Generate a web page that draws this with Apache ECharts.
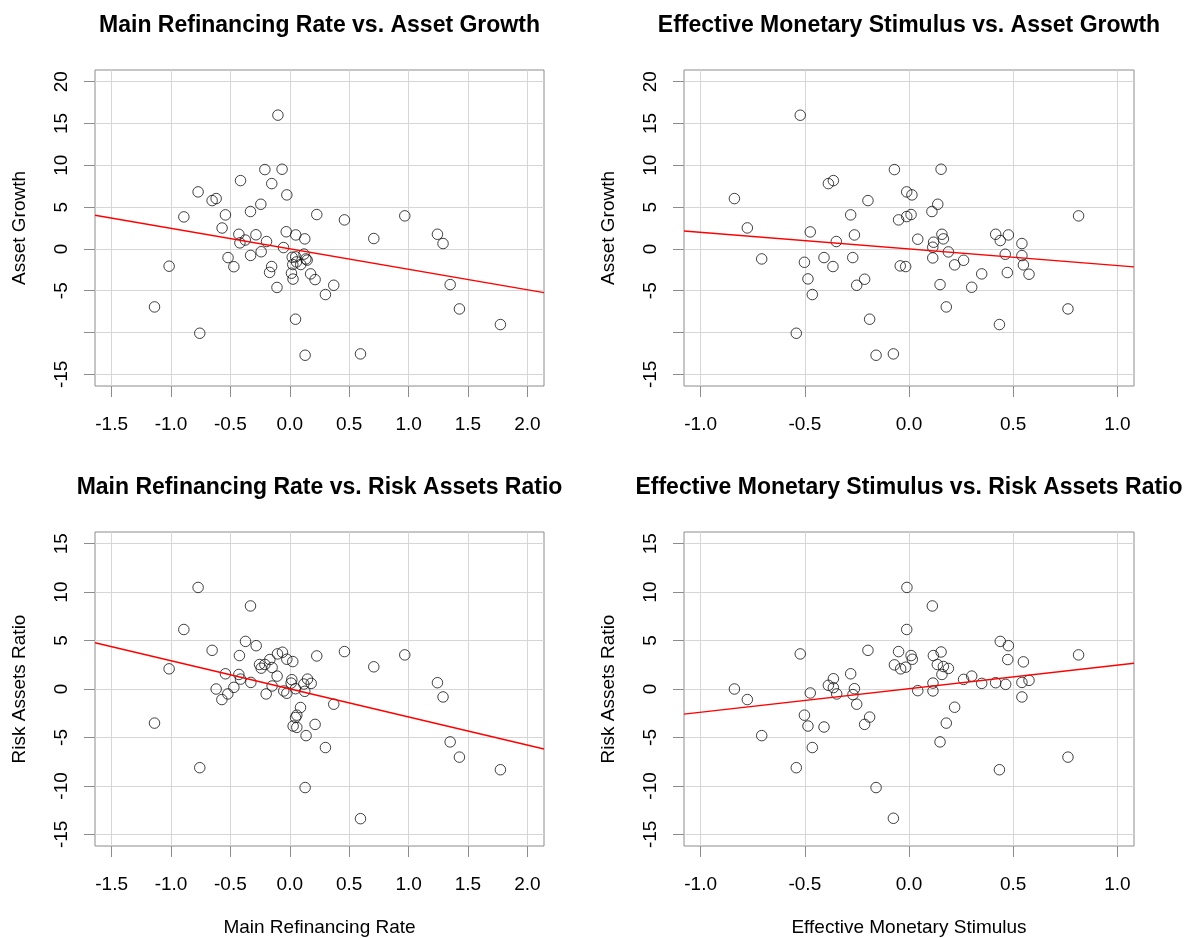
<!DOCTYPE html>
<html>
<head>
<meta charset="utf-8">
<script src="https://cdn.jsdelivr.net/npm/echarts@6/dist/echarts.min.js"></script>
<style>
html,body{margin:0;padding:0;background:#fff;}
#chart{width:1185px;height:938px;}
</style>
</head>
<body>
<div id="chart"></div>
<script>
// ---- Data ----
// Top-left: Main Refinancing Rate vs. Asset Growth
const mrrAsset_x = [-0.10,-0.21,-0.065,-0.415,-0.152,-0.772,-0.025,-0.654,-0.62,-0.244,-0.331,-0.892,-0.542,0.227,0.46,0.968,-0.57,-0.03,-0.429,-0.285,0.05,0.126,-0.375,-0.42,-0.196,0.707,1.243,1.29,-0.053,-0.241,-0.33,-0.52,0.02,0.05,0.12,0.146,0.135,0.056,0.025,0.092,-1.016,-0.471,-0.153,-0.17,0.014,0.027,0.175,0.213,0.37,-0.108,0.30,1.35,-1.139,1.428,1.773,0.048,-0.758,0.129,0.595];
const mrrAsset_y = [16.0,9.49,9.53,8.17,7.81,6.82,6.46,5.78,6.02,5.34,4.47,3.83,4.07,4.11,3.47,3.95,2.5,2.05,1.75,1.69,1.67,1.2,1.06,0.72,0.88,1.24,1.75,0.64,0.16,-0.34,-0.78,-1.04,-1.0,-0.95,-0.62,-1.34,-1.2,-1.56,-1.87,-1.87,-2.07,-2.13,-2.11,-2.81,-2.91,-3.61,-2.99,-3.67,-4.35,-4.61,-5.46,-4.27,-6.94,-7.18,-9.05,-8.41,-10.09,-12.72,-12.56];

// Top-right: Effective Monetary Stimulus vs. Asset Growth
const emsAsset_x = [-0.522,-0.070,0.154,-0.387,-0.363,-0.838,-0.011,0.014,-0.197,0.138,0.110,-0.28,-0.011,0.010,-0.050,0.814,-0.776,-0.474,-0.262,0.158,0.165,0.416,0.477,0.438,-0.349,0.042,0.118,0.114,0.542,0.189,0.462,0.542,-0.707,-0.502,-0.408,-0.270,-0.365,-0.042,-0.016,0.114,0.262,0.219,0.549,0.349,0.472,0.576,-0.485,-0.251,-0.213,0.149,0.301,-0.464,0.179,0.763,0.434,-0.189,-0.541,-0.158,-0.075];
const emsAsset_y = [15.99,9.49,9.53,7.81,8.17,6.02,6.82,6.46,5.78,5.34,4.47,4.07,3.87,4.11,3.47,3.95,2.51,2.03,1.67,1.75,1.2,1.75,1.67,1.0,0.88,1.16,0.80,0.2,0.64,-0.36,-0.64,-0.8,-1.2,-1.6,-1.04,-1.04,-2.11,-2.03,-2.11,-1.08,-1.36,-1.91,-1.91,-2.99,-2.83,-3.03,-3.59,-4.35,-3.63,-4.27,-4.59,-5.46,-6.94,-7.18,-9.05,-8.41,-10.09,-12.72,-12.56];

// Bottom-left: Main Refinancing Rate vs. Risk Assets Ratio
const mrrRisk_x = [-0.772,-0.331,-0.892,-0.373,-0.283,-0.654,-0.424,-0.104,-0.062,0.227,0.46,0.968,-0.168,-0.025,0.025,-0.255,-0.21,-0.241,-0.149,0.707,-1.016,-0.542,-0.429,-0.415,-0.107,0.017,0.011,0.149,0.18,0.118,-0.328,-0.149,-0.471,-0.62,0.048,0.126,-0.051,-0.025,-0.199,-0.522,-0.572,1.243,1.29,0.37,0.09,0.059,0.048,0.028,0.059,0.213,0.137,-1.139,0.30,1.35,1.428,1.773,-0.758,0.129,0.595];
const mrrRisk_y = [10.48,8.57,6.14,4.91,4.47,3.99,3.45,3.62,3.79,3.41,3.86,3.52,3.04,3.07,2.83,2.53,2.53,2.15,2.22,2.29,2.08,1.57,1.5,1.02,1.33,0.96,0.61,1.02,0.58,0.51,0.68,0.31,0.17,0.0,0.03,-0.24,-0.2,-0.44,-0.51,-0.51,-1.09,0.65,-0.82,-1.57,-1.91,-2.7,-2.94,-3.82,-3.96,-3.65,-4.81,-3.52,-6.04,-5.46,-7.03,-8.33,-8.12,-10.17,-13.38];

// Bottom-right: Effective Monetary Stimulus vs. Risk Assets Ratio
const emsRisk_x = [-0.010,0.112,-0.011,0.438,0.477,-0.522,-0.197,-0.05,0.154,0.117,0.010,0.016,0.814,0.474,0.549,-0.070,-0.04,-0.016,0.136,0.165,0.189,0.158,-0.28,-0.363,-0.387,-0.363,-0.347,-0.262,-0.269,-0.251,-0.838,-0.776,-0.474,-0.502,-0.485,-0.408,-0.707,-0.464,-0.541,-0.213,-0.189,-0.158,-0.075,0.042,0.115,0.115,0.262,0.301,0.349,0.416,0.464,0.542,0.576,0.542,0.219,0.179,0.149,0.763,0.434];
const emsRisk_y = [10.48,8.57,6.14,4.91,4.47,3.62,3.99,3.86,3.82,3.45,3.45,3.07,3.52,3.04,2.80,2.49,2.08,2.25,2.53,2.32,2.12,1.5,1.57,1.06,0.38,0.14,-0.51,0.03,-0.58,-1.57,0.0,-1.09,-0.41,-2.70,-3.82,-3.92,-4.81,-6.04,-8.12,-3.65,-2.90,-10.17,-13.34,-0.17,0.61,-0.2,0.99,1.33,0.58,0.65,0.48,0.68,0.89,-0.82,-1.88,-3.52,-5.46,-7.03,-8.33];

// Fitted regression lines [intercept, slope]
const fitMrrAsset = [0.01, -2.45];
const fitEmsAsset = [0.0, -1.99];
const fitMrrRisk  = [0.02, -2.90];
const fitEmsRisk  = [0.03, 2.43];

// Tick values and labels
const xTicksMrr = [-1.5,-1.0,-0.5,0.0,0.5,1.0,1.5,2.0];
const xTicksEms = [-1.0,-0.5,0.0,0.5,1.0];
const yTicksAsset = [-15,-10,-5,0,5,10,15,20];
const yLabelsAsset = [-15,-5,0,5,10,15,20];
const yTicksRisk = [-15,-10,-5,0,5,10,15];

const titles = [
  'Main Refinancing Rate vs. Asset Growth',
  'Effective Monetary Stimulus vs. Asset Growth',
  'Main Refinancing Rate vs. Risk Assets Ratio',
  'Effective Monetary Stimulus vs. Risk Assets Ratio'
];

// ---- Layout / style ----
const FONT = '"Liberation Sans", Arial, Helvetica, sans-serif';
const xRangeMrr = [-1.64, 2.14];
const xRangeEms = [-1.08, 1.08];
const yRangeAsset = [-16.4, 21.4];
const yRangeRisk = [-16.2, 16.2];

const grids = [
  {left: 95,  top: 70,  width: 449, height: 316},
  {left: 684, top: 70,  width: 450, height: 316},
  {left: 95,  top: 532, width: 449, height: 316},
  {left: 684, top: 532, width: 450, height: 316}
];

const panels = [
  {x: mrrAsset_x, y: mrrAsset_y, fit: fitMrrAsset, xr: xRangeMrr, yr: yRangeAsset, xt: xTicksMrr, yt: yTicksAsset, yl: yLabelsAsset, xName: '', yName: 'Asset Growth'},
  {x: emsAsset_x, y: emsAsset_y, fit: fitEmsAsset, xr: xRangeEms, yr: yRangeAsset, xt: xTicksEms, yt: yTicksAsset, yl: yLabelsAsset, xName: '', yName: 'Asset Growth'},
  {x: mrrRisk_x, y: mrrRisk_y, fit: fitMrrRisk, xr: xRangeMrr, yr: yRangeRisk, xt: xTicksMrr, yt: yTicksRisk, yl: yTicksRisk, xName: 'Main Refinancing Rate', yName: 'Risk Assets Ratio'},
  {x: emsRisk_x, y: emsRisk_y, fit: fitEmsRisk, xr: xRangeEms, yr: yRangeRisk, xt: xTicksEms, yt: yTicksRisk, yl: yTicksRisk, xName: 'Effective Monetary Stimulus', yName: 'Risk Assets Ratio'}
];

const gridOpt = grids.map(g => Object.assign({show: true, borderColor: '#8c8c8c', borderWidth: 1, backgroundColor: 'transparent', containLabel: false}, g));

const xAxes = panels.map((p, i) => ({
  type: 'value', gridIndex: i, min: p.xr[0], max: p.xr[1], position: 'bottom',
  name: p.xName, nameLocation: 'middle', nameGap: 72,
  nameTextStyle: {fontSize: 19, color: '#000', fontFamily: FONT},
  axisLine: {show: false, onZero: false},
  axisTick: {show: true, inside: false, length: 11, lineStyle: {color: '#8c8c8c', width: 1}, customValues: p.xt},
  axisLabel: {show: true, customValues: p.xt, margin: 29, fontSize: 19, color: '#000', fontFamily: FONT,
              formatter: v => Number(v).toFixed(1)},
  splitLine: {show: true, lineStyle: {color: '#d6d6d6', width: 1}}
}));

const yAxes = panels.map((p, i) => ({
  type: 'value', gridIndex: i, min: p.yr[0], max: p.yr[1], position: 'left',
  name: p.yName, nameLocation: 'middle', nameGap: 66, nameRotate: 90,
  nameTextStyle: {fontSize: 19, color: '#000', fontFamily: FONT},
  axisLine: {show: false, onZero: false},
  axisTick: {show: true, inside: false, length: 11, lineStyle: {color: '#8c8c8c', width: 1}, customValues: p.yt},
  axisLabel: {show: true, customValues: p.yl, rotate: 90, margin: 24, fontSize: 19, color: '#000', fontFamily: FONT,
              formatter: v => String(Math.round(v))},
  splitLine: {show: true, lineStyle: {color: '#d6d6d6', width: 1}}
}));

const series = [];
panels.forEach((p, i) => {
  series.push({
    type: 'scatter', xAxisIndex: i, yAxisIndex: i,
    symbol: 'circle', symbolSize: 10.5,
    itemStyle: {color: 'rgba(0,0,0,0)', borderColor: '#111', borderWidth: 1},
    data: p.x.map((v, k) => [v, p.y[k]]),
    silent: true, z: 3
  });
  const a = p.fit[0], b = p.fit[1];
  series.push({
    type: 'line', xAxisIndex: i, yAxisIndex: i,
    showSymbol: false, symbol: 'none', clip: true, silent: true,
    lineStyle: {color: '#ff0000', width: 1.4},
    data: [[p.xr[0], a + b * p.xr[0]], [p.xr[1], a + b * p.xr[1]]],
    z: 4
  });
});

const graphics = titles.map((t, i) => ({
  type: 'text',
  x: grids[i].left + grids[i].width / 2,
  y: grids[i].top - 44,
  style: {text: t, textAlign: 'center', textVerticalAlign: 'middle',
          font: 'bold 23px ' + FONT, fill: '#000'}
}));

const chart = echarts.init(document.getElementById('chart'), null, {renderer: 'canvas'});
chart.setOption({
  animation: false,
  backgroundColor: '#fff',
  grid: gridOpt,
  xAxis: xAxes,
  yAxis: yAxes,
  series: series,
  graphic: graphics
});
</script>
</body>
</html>
